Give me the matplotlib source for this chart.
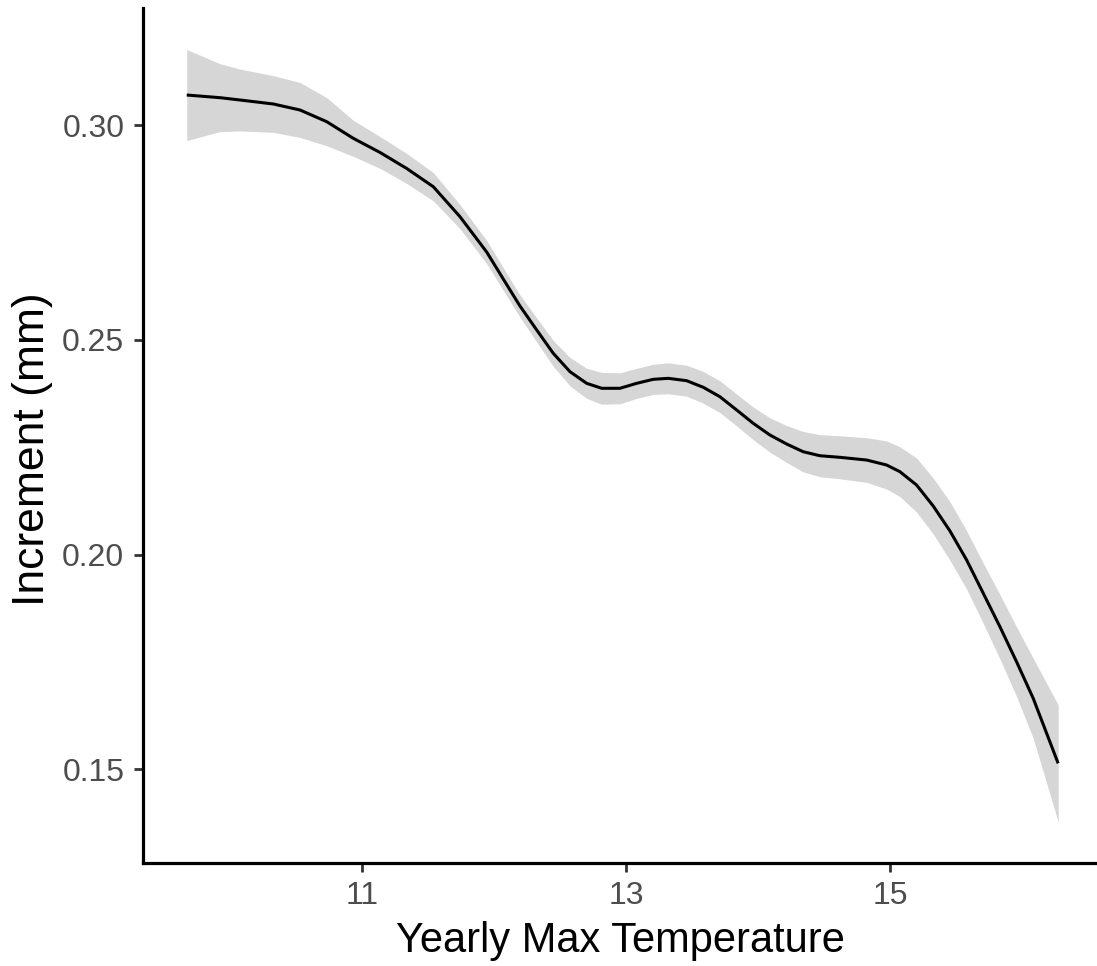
import numpy as np
import matplotlib
matplotlib.use("Agg")
import matplotlib.pyplot as plt

plt.rcParams['font.family'] = ['Liberation Sans', 'DejaVu Sans']

# loess fit of increment against yearly max temperature, with 95% band half-width
temp = [9.675, 9.927, 10.079, 10.331, 10.533, 10.735, 10.936, 11.139, 11.341,
        11.542, 11.744, 11.946, 12.123, 12.198, 12.325, 12.450, 12.577, 12.703,
        12.817, 12.955, 13.082, 13.207, 13.321, 13.460, 13.586, 13.712, 13.839,
        13.964, 14.091, 14.217, 14.343, 14.469, 14.621, 14.823, 14.974, 15.075,
        15.201, 15.327, 15.454, 15.580, 15.706, 15.832, 15.958, 16.084, 16.273]
fit = [0.30698, 0.30636, 0.30582, 0.30489, 0.30349, 0.30077, 0.29690, 0.29360, 0.28987,
       0.28563, 0.27865, 0.27043, 0.26158, 0.25786, 0.25227, 0.24685, 0.24256, 0.23986,
       0.23870, 0.23870, 0.23986, 0.24079, 0.24102, 0.24047, 0.23893, 0.23674, 0.23364,
       0.23055, 0.22782, 0.22573, 0.22393, 0.22300, 0.22263, 0.22200, 0.22084, 0.21928,
       0.21618, 0.21129, 0.20547, 0.19872, 0.19097, 0.18319, 0.17504, 0.16652, 0.15138]
band = [0.0106, 0.0079, 0.0072, 0.0066, 0.0064, 0.0056, 0.0042, 0.0037, 0.0035,
        0.0033, 0.0028, 0.0027, 0.0026, 0.0026, 0.0028, 0.0030, 0.0033, 0.0035,
        0.0037, 0.0036, 0.0035, 0.0035, 0.0036, 0.0036, 0.0037, 0.0037, 0.0037,
        0.0038, 0.0040, 0.0043, 0.0047, 0.0049, 0.0050, 0.0052, 0.0056, 0.0058,
        0.0063, 0.0065, 0.0068, 0.0068, 0.0070, 0.0075, 0.0081, 0.0093, 0.0136]

xticks = [11, 13, 15]
yticks = [0.15, 0.20, 0.25, 0.30]

temp = np.array(temp)
fit = np.array(fit)
band = np.array(band)

fig = plt.figure(figsize=(10.97, 9.66), dpi=100)
ax = fig.add_axes([0.13036, 0.10714, 1 - 0.13036, 0.99141 - 0.10714])

ax.fill_between(temp, fit - band, fit + band, color='#D6D6D6', lw=0)
ax.plot(temp, fit, color='black', lw=2.2, solid_capstyle='butt', solid_joinstyle='round')

ax.set_xlim(9.344, 16.567)
ax.set_ylim(0.1283, 0.32717)
ax.set_xticks(xticks)
ax.set_yticks(yticks)
ax.set_yticklabels([f'{v:.2f}' for v in yticks])

for side in ['top', 'right']:
  ax.spines[side].set_visible(False)
for side in ['left', 'bottom']:
  ax.spines[side].set_linewidth(2.3)
  ax.spines[side].set_color('black')

ax.tick_params(axis='both', length=6.5, width=2.0, color='#333333',
               labelsize=23, labelcolor='#4D4D4D', pad=7)

ax.set_xlabel('Yearly Max Temperature', fontsize=30, color='black', labelpad=7)
ax.set_ylabel('Increment (mm)', fontsize=32, color='black')
ax.yaxis.set_label_coords(-0.0943, 0.484)

fig.savefig('out.png', dpi=100)
